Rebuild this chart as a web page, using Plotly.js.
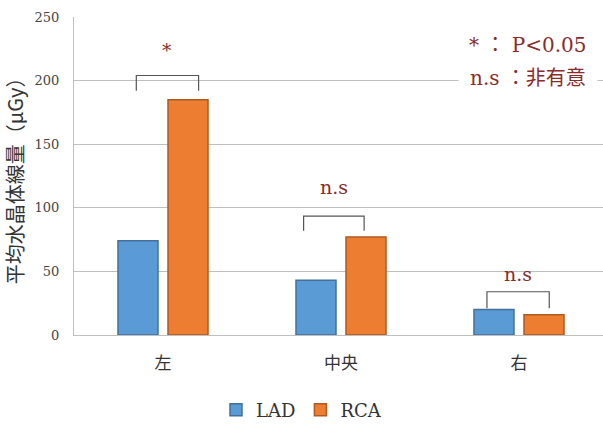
<!DOCTYPE html>
<html>
<head>
<meta charset="utf-8">
<script src="https://cdn.plot.ly/plotly-3.0.1.min.js"></script>
<style>html,body{margin:0;padding:0;background:#fff;}#chart{width:603px;height:424px;}</style>
</head>
<body>
<div id="chart"></div>
<script>
const categories = ['左', '中央', '右'];
const ladValues = [74, 43, 20];
const rcaValues = [185, 77, 16];
const sigLabels = ['*', 'n.s', 'n.s'];
const bracketTop = [204, 93.5, 34];
const bracketBottom = [192, 82, 21];
const bracketLeft = [-0.15, -0.21, -0.18];
const bracketRight = [0.2, 0.13, 0.17];
const labelY = [224, 116, 48];

const serif = 'DejaVu Serif, Liberation Serif, serif';
const cjk = 'Noto Sans CJK JP, sans-serif';
const red = '#8a2b2b';

const traces = [
  {type: 'bar', name: 'LAD', x: categories, y: ladValues,
   marker: {color: '#5b9bd5', line: {color: '#41719c', width: 1.5}}},
  {type: 'bar', name: 'RCA', x: categories, y: rcaValues,
   marker: {color: '#ed7d31', line: {color: '#ae5a21', width: 1.5}}}
];

const shapes = [];
const annotations = [];
categories.forEach((c, i) => {
  shapes.push({type: 'path', xref: 'x', yref: 'y',
    path: `M ${i + bracketLeft[i]} ${bracketBottom[i]} L ${i + bracketLeft[i]} ${bracketTop[i]} L ${i + bracketRight[i]} ${bracketTop[i]} L ${i + bracketRight[i]} ${bracketBottom[i]}`,
    line: {color: '#555', width: 1.2}});
  annotations.push({xref: 'x', yref: 'y', x: i + (bracketLeft[i] + bracketRight[i]) / 2, y: labelY[i],
    text: sigLabels[i], showarrow: false, font: {family: serif, size: 19, color: red}});
});
annotations.push({xref: 'paper', yref: 'paper', x: 0.972, y: 0.912, xanchor: 'right', yanchor: 'middle',
  text: '* ： P<0.05', showarrow: false, font: {family: serif + ', ' + cjk, size: 20, color: red}});
annotations.push({xref: 'paper', yref: 'paper', x: 0.99, y: 0.808, xanchor: 'right', yanchor: 'middle',
  text: 'n.s ：非有意', showarrow: false, font: {family: serif + ', ' + cjk, size: 20, color: red},
  bgcolor: '#fff', borderpad: 11});

const layout = {
  width: 603, height: 424,
  margin: {l: 74, r: 0, t: 17, b: 89},
  paper_bgcolor: '#fff', plot_bgcolor: '#fff',
  barmode: 'group', bargap: 0.438, bargroupgap: 0.2,
  xaxis: {type: 'category', range: [-0.5, 2.472], showgrid: false,
    showline: true, linecolor: '#bfbfbf', linewidth: 1,
    ticks: '', tickfont: {family: cjk, size: 17, color: '#333'}, ticklabelstandoff: 13},
  yaxis: {range: [0, 250], dtick: 50, showgrid: true, gridcolor: '#bfbfbf', gridwidth: 1,
    showline: true, linecolor: '#bfbfbf', zeroline: false, ticks: '',
    tickfont: {family: serif, size: 13, color: '#444'}, ticklabelstandoff: 11,
    title: {text: '平均水晶体線量（μGy）', font: {family: cjk, size: 20, color: '#333'}, standoff: 9}},
  showlegend: true,
  legend: {orientation: 'h', xref: 'container', yref: 'container', x: 0.5, y: 0.033,
    xanchor: 'center', yanchor: 'middle', font: {family: serif, size: 18, color: '#333'},
    itemwidth: 30, traceorder: 'normal'},
  shapes: shapes,
  annotations: annotations
};

Plotly.newPlot('chart', traces, layout, {displayModeBar: false, staticPlot: true});
</script>
</body>
</html>
